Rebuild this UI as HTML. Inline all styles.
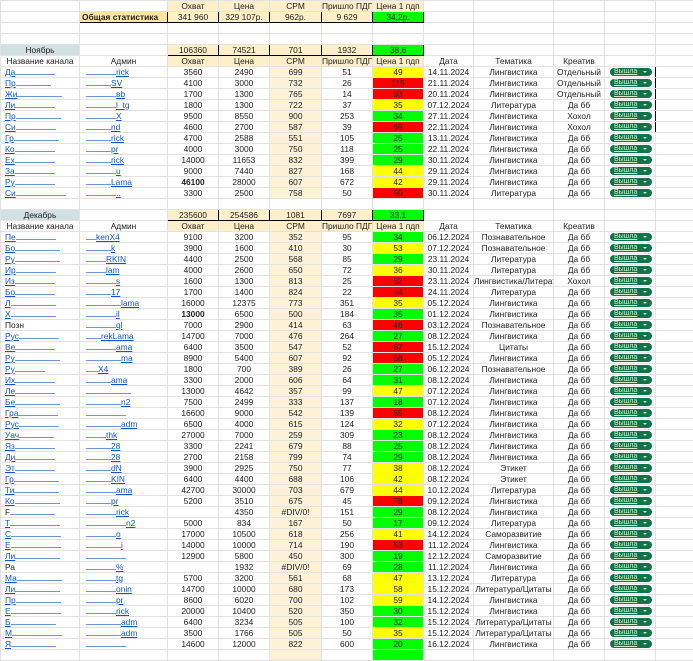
<!DOCTYPE html>
<html><head><meta charset="utf-8">
<style>
html,body{margin:0;padding:0;background:#fff;width:693px;height:659px;overflow:hidden}
table{border-collapse:collapse;table-layout:fixed;position:absolute;left:0;top:0;width:693px}
tr{height:11px}
td{padding:0;border:1px solid #e2e2e2;font:8.4px/9px "Liberation Sans",sans-serif;text-align:center;color:#222;white-space:nowrap;overflow:hidden}
.o{background:#fdefc9}
.c{background:#fdf1d8}
.G{background:#00ff00}.Y{background:#ffff00}.R{background:#ff0000}
.n{background:#d0e0e3}
.bo{font-weight:bold}
.a{text-align:left;padding-left:4px;color:#1155cc;text-decoration:underline}
.ad{text-align:left;padding-left:6px;color:#1155cc;text-decoration:underline}
i{display:inline-block;height:6px;border-bottom:1px solid #6d94e0;vertical-align:baseline}
.k{text-align:left;padding-left:5px}
.b{display:inline-block;width:42px;height:8px;background:#11734b;border-radius:4px;color:#d4edbc;font-size:7px;line-height:8px;text-align:left;padding-left:4px;box-sizing:border-box;position:relative;vertical-align:middle;text-decoration:underline}
.b:after{content:"";position:absolute;right:5px;top:3px;border-left:2px solid transparent;border-right:2px solid transparent;border-top:2.5px solid #d4edbc}
.t td{border-top:1.5px solid #000}
.t td.nt{border-top:1px solid #e2e2e2}
.kr{border-right:1.5px solid #000}
.bx{border:1.5px solid #000}
</style></head><body>
<table>
<colgroup><col style="width:79px"><col style="width:88px"><col style="width:51px"><col style="width:51px"><col style="width:52px"><col style="width:51px"><col style="width:51px"><col style="width:50px"><col style="width:80px"><col style="width:51px"><col style="width:51px"><col style="width:38px"></colgroup>
<tr><td></td><td></td><td class=o>Охват</td><td class=o>Цена</td><td class=o>CPM</td><td class=o>Пришло ПДП</td><td class=o>Цена 1 пдп</td><td></td><td></td><td></td><td></td><td></td></tr>
<tr><td></td><td class="bx bo" style="background:#fce5a4;text-align:left;padding-left:2px">Общая статистика</td><td class="bx o">341 960</td><td class="bx o">329 107р.</td><td class="bx o">962р.</td><td class="bx o">9 629</td><td class="bx G">34,2р.</td><td></td><td></td><td></td><td></td><td></td></tr>
<tr><td></td><td></td><td></td><td></td><td></td><td></td><td></td><td></td><td></td><td></td><td></td><td></td></tr>
<tr><td></td><td></td><td></td><td></td><td></td><td></td><td></td><td></td><td></td><td></td><td></td><td></td></tr>
<tr><td class=n>Ноябрь</td><td></td><td class="bx o">106360</td><td class="bx o">74521</td><td class="bx o">701</td><td class="bx o">1932</td><td class="bx G">38,6</td><td></td><td></td><td></td><td></td><td></td></tr>
<tr><td>Название канала</td><td>Админ</td><td class=o>Охват</td><td class=o>Цена</td><td class=o>CPM</td><td class=o>Пришло ПДП</td><td class=o>Цена 1 пдп</td><td>Дата</td><td>Тематика</td><td>Креатив</td><td></td><td></td></tr>
<tr class=t><td class=a>Да<i style="width:40px"></i></td><td class=ad><i style="width:30px"></i>rick</td><td>3560</td><td>2490</td><td class=c>699</td><td>51</td><td class=Y>49</td><td>14.11.2024</td><td>Лингвистика</td><td>Отдельный</td><td class="k kr nt"><span class=b>Вышла</span></td><td class=nt></td></tr>
<tr><td class=a>Пр<i style="width:35px"></i></td><td class=ad><i style="width:25px"></i>SV</td><td>4100</td><td>3000</td><td class=c>732</td><td>26</td><td class=R>115</td><td>21.11.2024</td><td>Лингвистика</td><td>Отдельный</td><td class="k kr"><span class=b>Вышла</span></td><td></td></tr>
<tr><td class=a>Жи<i style="width:45px"></i></td><td class=ad><i style="width:30px"></i>вb</td><td>1700</td><td>1300</td><td class=c>765</td><td>14</td><td class=R>93</td><td>20.11.2024</td><td>Лингвистика</td><td>Отдельный</td><td class="k kr"><span class=b>Вышла</span></td><td></td></tr>
<tr class=t><td class=a>Ли<i style="width:40px"></i></td><td class=ad><i style="width:30px"></i>l_tg</td><td>1800</td><td>1300</td><td class=c>722</td><td>37</td><td class=Y>35</td><td>07.12.2024</td><td>Литература</td><td>Да бб</td><td class="k kr"><span class=b>Вышла</span></td><td class=nt></td></tr>
<tr><td class=a>Пр<i style="width:45px"></i></td><td class=ad><i style="width:30px"></i>X</td><td>9500</td><td>8550</td><td class=c>900</td><td>253</td><td class=G>34</td><td>27.11.2024</td><td>Лингвистика</td><td>Хохол</td><td class="k kr"><span class=b>Вышла</span></td><td></td></tr>
<tr><td class=a>Си<i style="width:40px"></i></td><td class=ad><i style="width:25px"></i>nd</td><td>4600</td><td>2700</td><td class=c>587</td><td>39</td><td class=R>69</td><td>22.11.2024</td><td>Лингвистика</td><td>Хохол</td><td class="k kr"><span class=b>Вышла</span></td><td></td></tr>
<tr class=t><td class=a>Гр<i style="width:45px"></i></td><td class=ad><i style="width:25px"></i>rick</td><td>4700</td><td>2588</td><td class=c>551</td><td>105</td><td class=G>25</td><td>13.11.2024</td><td>Лингвистика</td><td>Да бб</td><td class=k><span class=b>Вышла</span></td><td class=nt></td></tr>
<tr><td class=a>Ко<i style="width:40px"></i></td><td class=ad><i style="width:25px"></i>pr</td><td>4000</td><td>3000</td><td class=c>750</td><td>118</td><td class=G>25</td><td>22.11.2024</td><td>Лингвистика</td><td>Да бб</td><td class=k><span class=b>Вышла</span></td><td></td></tr>
<tr><td class=a>Ех<i style="width:40px"></i></td><td class=ad><i style="width:25px"></i>rick</td><td>14000</td><td>11653</td><td class=c>832</td><td>399</td><td class=G>29</td><td>30.11.2024</td><td>Лингвистика</td><td>Да бб</td><td class=k><span class=b>Вышла</span></td><td></td></tr>
<tr><td class=a>За<i style="width:40px"></i></td><td class=ad><i style="width:30px"></i>u</td><td>9000</td><td>7440</td><td class=c>827</td><td>168</td><td class=Y>44</td><td>29.11.2024</td><td>Лингвистика</td><td>Да бб</td><td class=k><span class=b>Вышла</span></td><td></td></tr>
<tr><td class=a>Ру<i style="width:40px"></i></td><td class=ad><i style="width:25px"></i>Lama</td><td class=bo>46100</td><td>28000</td><td class=c>607</td><td>672</td><td class=Y>42</td><td>29.11.2024</td><td>Лингвистика</td><td>Да бб</td><td class=k><span class=b>Вышла</span></td><td></td></tr>
<tr><td class=a>Си<i style="width:50px"></i></td><td class=ad><i style="width:30px"></i>..</td><td>3300</td><td>2500</td><td class=c>758</td><td>50</td><td class=R>50</td><td>30.11.2024</td><td>Литература</td><td>Да бб</td><td class=k><span class=b>Вышла</span></td><td></td></tr>
<tr><td></td><td></td><td></td><td></td><td></td><td></td><td></td><td></td><td></td><td></td><td></td><td></td></tr>
<tr><td class=n>Декабрь</td><td></td><td class="bx o">235600</td><td class="bx o">254586</td><td class="bx o">1081</td><td class="bx o">7697</td><td class="bx G">33,1</td><td></td><td></td><td></td><td></td><td></td></tr>
<tr><td>Название канала</td><td>Админ</td><td class=o>Охват</td><td class=o>Цена</td><td class=o>CPM</td><td class=o>Пришло ПДП</td><td class=o>Цена 1 пдп</td><td>Дата</td><td>Тематика</td><td>Креатив</td><td></td><td></td></tr>
<tr class=t><td class=a>Пе<i style="width:40px"></i></td><td class=ad><i style="width:10px"></i>kenX4</td><td>9100</td><td>3200</td><td class=c>352</td><td>95</td><td class=G>34</td><td>06.12.2024</td><td>Познавательное</td><td>Да бб</td><td class="k nt"><span class=b>Вышла</span></td><td class=nt></td></tr>
<tr><td class=a>Бо<i style="width:45px"></i></td><td class=ad><i style="width:25px"></i>k</td><td>3900</td><td>1600</td><td class=c>410</td><td>30</td><td class=Y>53</td><td>07.12.2024</td><td>Познавательное</td><td>Да бб</td><td class=k><span class=b>Вышла</span></td><td></td></tr>
<tr><td class=a>Ру<i style="width:45px"></i></td><td class=ad><i style="width:20px"></i>RKIN</td><td>4400</td><td>2500</td><td class=c>568</td><td>85</td><td class=G>29</td><td>23.11.2024</td><td>Литература</td><td>Да бб</td><td class=k><span class=b>Вышла</span></td><td></td></tr>
<tr><td class=a>Ир<i style="width:40px"></i></td><td class=ad><i style="width:20px"></i>lam</td><td>4000</td><td>2600</td><td class=c>650</td><td>72</td><td class=Y>36</td><td>30.11.2024</td><td>Литература</td><td>Да бб</td><td class=k><span class=b>Вышла</span></td><td></td></tr>
<tr><td class=a>Из<i style="width:40px"></i></td><td class=ad><i style="width:30px"></i>s</td><td>1600</td><td>1300</td><td class=c>813</td><td>25</td><td class=R>52</td><td>23.11.2024</td><td>Лингвистика/Литература</td><td>Хохол</td><td class=k><span class=b>Вышла</span></td><td></td></tr>
<tr><td class=a>Бо<i style="width:40px"></i></td><td class=ad><i style="width:25px"></i>17</td><td>1700</td><td>1400</td><td class=c>824</td><td>22</td><td class=R>64</td><td>24.11.2024</td><td>Литература</td><td>Да бб</td><td class=k><span class=b>Вышла</span></td><td></td></tr>
<tr><td class=a>Л<i style="width:45px"></i></td><td class=ad><i style="width:35px"></i>lama</td><td>16000</td><td>12375</td><td class=c>773</td><td>351</td><td class=Y>35</td><td>05.12.2024</td><td>Лингвистика</td><td>Да бб</td><td class=k><span class=b>Вышла</span></td><td></td></tr>
<tr><td class=a>Х<i style="width:45px"></i></td><td class=ad><i style="width:30px"></i>il</td><td class=bo>13000</td><td>6500</td><td class=c>500</td><td>184</td><td class=G>35</td><td>01.12.2024</td><td>Лингвистика</td><td>Да бб</td><td class=k><span class=b>Вышла</span></td><td></td></tr>
<tr><td class=a style="color:#222;text-decoration:none">Позн</td><td class=ad><i style="width:30px"></i>ql</td><td>7000</td><td>2900</td><td class=c>414</td><td>63</td><td class=R>46</td><td>03.12.2024</td><td>Познавательное</td><td>Да бб</td><td class=k><span class=b>Вышла</span></td><td></td></tr>
<tr><td class=a>Рус<i style="width:40px"></i></td><td class=ad><i style="width:15px"></i>rekLama</td><td>14700</td><td>7000</td><td class=c>476</td><td>264</td><td class=G>27</td><td>08.12.2024</td><td>Лингвистика</td><td>Да бб</td><td class=k><span class=b>Вышла</span></td><td></td></tr>
<tr><td class=a>Ве<i style="width:40px"></i></td><td class=ad><i style="width:30px"></i>ama</td><td>6400</td><td>3500</td><td class=c>547</td><td>52</td><td class=R>67</td><td>15.12.2024</td><td>Цитаты</td><td>Да бб</td><td class=k><span class=b>Вышла</span></td><td></td></tr>
<tr><td class=a>Ру<i style="width:45px"></i></td><td class=ad><i style="width:35px"></i>ma</td><td>8900</td><td>5400</td><td class=c>607</td><td>92</td><td class=R>58</td><td>05.12.2024</td><td>Лингвистика</td><td>Да бб</td><td class=k><span class=b>Вышла</span></td><td></td></tr>
<tr><td class=a>Ру<i style="width:30px"></i></td><td class=ad><i style="width:12px"></i>X4</td><td>1800</td><td>700</td><td class=c>389</td><td>26</td><td class=G>27</td><td>06.12.2024</td><td>Познавательное</td><td>Да бб</td><td class=k><span class=b>Вышла</span></td><td></td></tr>
<tr><td class=a>Их<i style="width:40px"></i></td><td class=ad><i style="width:25px"></i>ama</td><td>3300</td><td>2000</td><td class=c>606</td><td>64</td><td class=G>31</td><td>08.12.2024</td><td>Лингвистика</td><td>Да бб</td><td class=k><span class=b>Вышла</span></td><td></td></tr>
<tr><td class=a>Ле<i style="width:40px"></i></td><td class=ad><i style="width:45px"></i></td><td>13000</td><td>4642</td><td class=c>357</td><td>99</td><td class=Y>47</td><td>07.12.2024</td><td>Лингвистика</td><td>Да бб</td><td class=k><span class=b>Вышла</span></td><td></td></tr>
<tr><td class=a>Бе<i style="width:45px"></i></td><td class=ad><i style="width:35px"></i>n2</td><td>7500</td><td>2499</td><td class=c>333</td><td>137</td><td class=G>18</td><td>07.12.2024</td><td>Лингвистика</td><td>Да бб</td><td class=k><span class=b>Вышла</span></td><td></td></tr>
<tr><td class=a>Гра<i style="width:40px"></i></td><td class=ad><i style="width:40px"></i></td><td>16600</td><td>9000</td><td class=c>542</td><td>139</td><td class=R>65</td><td>08.12.2024</td><td>Лингвистика</td><td>Да бб</td><td class=k><span class=b>Вышла</span></td><td></td></tr>
<tr><td class=a>Рус<i style="width:40px"></i></td><td class=ad><i style="width:35px"></i>adm</td><td>6500</td><td>4000</td><td class=c>615</td><td>124</td><td class=Y>32</td><td>07.12.2024</td><td>Лингвистика</td><td>Да бб</td><td class=k><span class=b>Вышла</span></td><td></td></tr>
<tr><td class=a>Уач<i style="width:35px"></i></td><td class=ad><i style="width:20px"></i>thk</td><td>27000</td><td>7000</td><td class=c>259</td><td>309</td><td class=G>23</td><td>08.12.2024</td><td>Лингвистика</td><td>Да бб</td><td class=k><span class=b>Вышла</span></td><td></td></tr>
<tr><td class=a>Яз<i style="width:40px"></i></td><td class=ad><i style="width:25px"></i>28</td><td>3300</td><td>2241</td><td class=c>679</td><td>88</td><td class=G>25</td><td>08.12.2024</td><td>Лингвистика</td><td>Да бб</td><td class=k><span class=b>Вышла</span></td><td></td></tr>
<tr><td class=a>Ди<i style="width:40px"></i></td><td class=ad><i style="width:25px"></i>28</td><td>2700</td><td>2158</td><td class=c>799</td><td>74</td><td class=G>29</td><td>08.12.2024</td><td>Лингвистика</td><td>Да бб</td><td class=k><span class=b>Вышла</span></td><td></td></tr>
<tr><td class=a>Эт<i style="width:40px"></i></td><td class=ad><i style="width:25px"></i>dN</td><td>3900</td><td>2925</td><td class=c>750</td><td>77</td><td class=Y>38</td><td>08.12.2024</td><td>Этикет</td><td>Да бб</td><td class=k><span class=b>Вышла</span></td><td></td></tr>
<tr><td class=a>Гр<i style="width:45px"></i></td><td class=ad><i style="width:25px"></i>KIN</td><td>6400</td><td>4400</td><td class=c>688</td><td>106</td><td class=Y>42</td><td>08.12.2024</td><td>Этикет</td><td>Да бб</td><td class=k><span class=b>Вышла</span></td><td></td></tr>
<tr><td class=a>Ти<i style="width:45px"></i></td><td class=ad><i style="width:30px"></i>ama</td><td>42700</td><td>30000</td><td class=c>703</td><td>679</td><td class=Y>44</td><td>10.12.2024</td><td>Литература</td><td>Да бб</td><td class=k><span class=b>Вышла</span></td><td></td></tr>
<tr><td class=a>Ко<i style="width:45px"></i></td><td class=ad><i style="width:25px"></i>pr</td><td>5200</td><td>3510</td><td class=c>675</td><td>45</td><td class=R>78</td><td>09.12.2024</td><td>Лингвистика</td><td>Да бб</td><td class=k><span class=b>Вышла</span></td><td></td></tr>
<tr><td class=a style="color:#222;text-decoration:none">F<i style="width:45px"></i></td><td class=ad><i style="width:30px"></i>rick</td><td></td><td>4350</td><td class=c>#DIV/0!</td><td>151</td><td class=G>29</td><td>08.12.2024</td><td>Лингвистика</td><td>Да бб</td><td class=k><span class=b>Вышла</span></td><td></td></tr>
<tr><td class=a>Т<i style="width:50px"></i></td><td class=ad><i style="width:40px"></i>n2</td><td>5000</td><td>834</td><td class=c>167</td><td>50</td><td class=G>17</td><td>09.12.2024</td><td>Литература</td><td>Да бб</td><td class=k><span class=b>Вышла</span></td><td></td></tr>
<tr><td class=a>С<i style="width:50px"></i></td><td class=ad><i style="width:30px"></i>o</td><td>17000</td><td>10500</td><td class=c>618</td><td>256</td><td class=Y>41</td><td>14.12.2024</td><td>Саморазвитие</td><td>Да бб</td><td class=k><span class=b>Вышла</span></td><td></td></tr>
<tr><td class=a>Е<i style="width:50px"></i></td><td class=ad><i style="width:35px"></i>i</td><td>14000</td><td>10000</td><td class=c>714</td><td>190</td><td class=R>53</td><td>11.12.2024</td><td>Лингвистика</td><td>Да бб</td><td class=k><span class=b>Вышла</span></td><td></td></tr>
<tr><td class=a>Ли<i style="width:45px"></i></td><td class=ad><i style="width:40px"></i></td><td>12900</td><td>5800</td><td class=c>450</td><td>300</td><td class=G>19</td><td>12.12.2024</td><td>Саморазвитие</td><td>Да бб</td><td class=k><span class=b>Вышла</span></td><td></td></tr>
<tr><td class=a style="color:#222;text-decoration:none">Ра</td><td class=ad><i style="width:30px"></i>%</td><td></td><td>1932</td><td class=c>#DIV/0!</td><td>69</td><td class=G>28</td><td>11.12.2024</td><td>Лингвистика</td><td>Да бб</td><td class=k><span class=b>Вышла</span></td><td></td></tr>
<tr><td class=a>Ма<i style="width:45px"></i></td><td class=ad><i style="width:30px"></i>tg</td><td>5700</td><td>3200</td><td class=c>561</td><td>68</td><td class=Y>47</td><td>13.12.2024</td><td>Литература</td><td>Да бб</td><td class=k><span class=b>Вышла</span></td><td></td></tr>
<tr><td class=a>Ли<i style="width:45px"></i></td><td class=ad><i style="width:30px"></i>onin</td><td>14700</td><td>10000</td><td class=c>680</td><td>173</td><td class=Y>58</td><td>15.12.2024</td><td>Литература/Цитаты</td><td>Да бб</td><td class=k><span class=b>Вышла</span></td><td></td></tr>
<tr><td class=a>Пр<i style="width:45px"></i></td><td class=ad><i style="width:30px"></i>pr</td><td>8600</td><td>6020</td><td class=c>700</td><td>102</td><td class=Y>59</td><td>14.12.2024</td><td>Лингвистика</td><td>Да бб</td><td class=k><span class=b>Вышла</span></td><td></td></tr>
<tr><td class=a>Е<i style="width:50px"></i></td><td class=ad><i style="width:30px"></i>rick</td><td>20000</td><td>10400</td><td class=c>520</td><td>350</td><td class=G>30</td><td>15.12.2024</td><td>Лингвистика</td><td>Да бб</td><td class=k><span class=b>Вышла</span></td><td></td></tr>
<tr><td class=a>Б<i style="width:45px"></i></td><td class=ad><i style="width:35px"></i>adm</td><td>6400</td><td>3234</td><td class=c>505</td><td>100</td><td class=G>32</td><td>15.12.2024</td><td>Литература/Цитаты</td><td>Да бб</td><td class=k><span class=b>Вышла</span></td><td></td></tr>
<tr><td class=a>М<i style="width:50px"></i></td><td class=ad><i style="width:35px"></i>adm</td><td>3500</td><td>1766</td><td class=c>505</td><td>50</td><td class=Y>35</td><td>15.12.2024</td><td>Литература/Цитаты</td><td>Да бб</td><td class=k><span class=b>Вышла</span></td><td></td></tr>
<tr><td class=a>Я<i style="width:45px"></i></td><td class=ad><i style="width:40px"></i></td><td>14600</td><td>12000</td><td class=c>822</td><td>600</td><td class=G>20</td><td>16.12.2024</td><td>Лингвистика</td><td>Да бб</td><td class=k><span class=b>Вышла</span></td><td></td></tr>
<tr><td></td><td></td><td></td><td></td><td class=c></td><td></td><td class=G></td><td></td><td></td><td></td><td></td><td></td></tr>
</table>
</body></html>
